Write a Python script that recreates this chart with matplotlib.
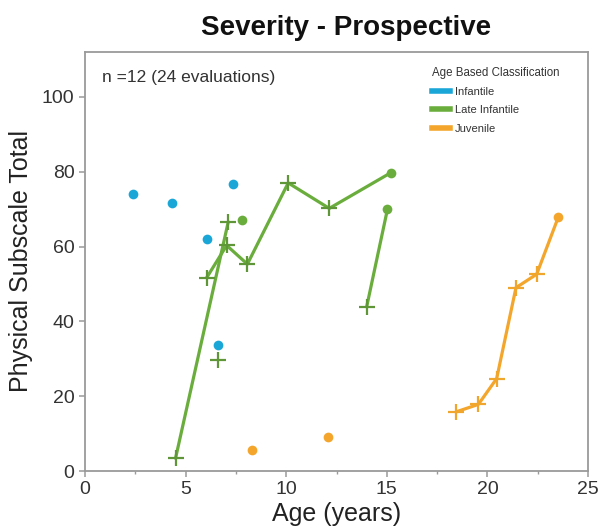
import matplotlib
matplotlib.use("Agg")
import matplotlib.pyplot as plt
from matplotlib.lines import Line2D
from matplotlib.ticker import MultipleLocator

plt.rcParams["font.family"] = ["Liberation Sans", "DejaVu Sans"]

# physical subscale totals by age, one list per patient
# marks: "+" follow-up visit, "o" dot visit
inf_ages = [[2.4], [4.3], [6.05], [7.35], [6.63]]
inf_scores = [[74.1], [71.6], [62.0], [76.7], [33.6]]
inf_marks = ["o", "o", "o", "o", "o"]

late_ages = [[4.5, 7.12],
             [6.05, 7.04, 8.07, 10.1, 12.14, 15.19],
             [14.0, 15.03],
             [6.63],
             [7.8]]
late_scores = [[3.4, 66.6],
               [51.7, 60.3, 55.3, 77.0, 70.2, 79.7],
               [43.9, 69.9],
               [29.6],
               [67.2]]
late_marks = ["++", "+++++o", "+o", "+", "o"]

juv_ages = [[8.28], [12.09], [18.44, 19.55, 20.46, 21.42, 22.45, 23.52]]
juv_scores = [[5.5], [9.1], [15.8, 17.8, 24.7, 49.0, 52.6, 67.8]]
juv_marks = ["o", "o", "+++++o"]

groups = ["Infantile", "Late Infantile", "Juvenile"]
colors = ["#1aa7d8", "#6aad3d", "#f3a62b"]
plus_colors = ["#1aa7d8", "#5f9638", "#f0a52c"]

fig = plt.figure(figsize=(6.04, 5.28), dpi=100)
ax = fig.add_axes([85 / 604, 1 - 471 / 528, 503 / 604, 419 / 528])

data = [(inf_ages, inf_scores, inf_marks),
        (late_ages, late_scores, late_marks),
        (juv_ages, juv_scores, juv_marks)]

for (ages, scores, marks), col, pcol in zip(data, colors, plus_colors):
    for a, s, m in zip(ages, scores, marks):
        if len(a) > 1:
            ax.plot(a, s, color=col, lw=2.3, solid_capstyle="round", zorder=2)
        pa = [x for x, k in zip(a, m) if k == "+"]
        ps = [y for y, k in zip(s, m) if k == "+"]
        da = [x for x, k in zip(a, m) if k == "o"]
        ds = [y for y, k in zip(s, m) if k == "o"]
        ax.plot(pa, ps, ls="none", marker="+", ms=12, mew=1.6, color=pcol, zorder=3)
        ax.plot(da, ds, ls="none", marker="o", ms=7, color=col, mec="none", zorder=3)

ax.set_xlim(0, 25)
ax.set_ylim(0, 112)
ax.xaxis.set_major_locator(MultipleLocator(5))
ax.xaxis.set_minor_locator(MultipleLocator(2.5))
ax.yaxis.set_major_locator(MultipleLocator(20))

for sp in ax.spines.values():
    sp.set_color("#9a9a9a")
    sp.set_linewidth(1.3)
ax.tick_params(which="major", direction="out", length=4, width=1.1,
               color="#9a9a9a", labelsize=14, labelcolor="#333333", pad=3.5)
ax.tick_params(which="minor", direction="out", length=2.5, width=1.0, color="#9a9a9a")
ax.tick_params(axis="y", which="minor", left=False)

ax.text(0.034, 0.938, "n =12 (24 evaluations)", transform=ax.transAxes,
        fontsize=12.5, color="#333333", va="center", ha="left")

handles = [Line2D([], [], color=c, lw=4) for c in colors]
leg = ax.legend(handles, groups, title="Age Based Classification",
                loc="upper left", bbox_to_anchor=(0.69, 0.965),
                frameon=False, fontsize=8, title_fontsize=8.3,
                handlelength=1.6, handletextpad=0.45, labelspacing=0.75,
                borderpad=0, borderaxespad=0, alignment="left")
for t in leg.get_texts():
    t.set_color("#333333")
leg.get_title().set_color("#333333")

fig.text(346 / 604, 1 - 35 / 528, "Severity - Prospective", fontsize=20,
         fontweight="bold", ha="center", va="baseline", color="#111111")
fig.text(0.034, 1 - 261.5 / 528, "Physical Subscale Total", fontsize=18,
         rotation=90, ha="center", va="center", color="#222222")
fig.text(337 / 604, 0.003, "Age (years)", fontsize=18, ha="center",
         va="bottom", color="#222222")

fig.savefig("out.png", dpi=100)
